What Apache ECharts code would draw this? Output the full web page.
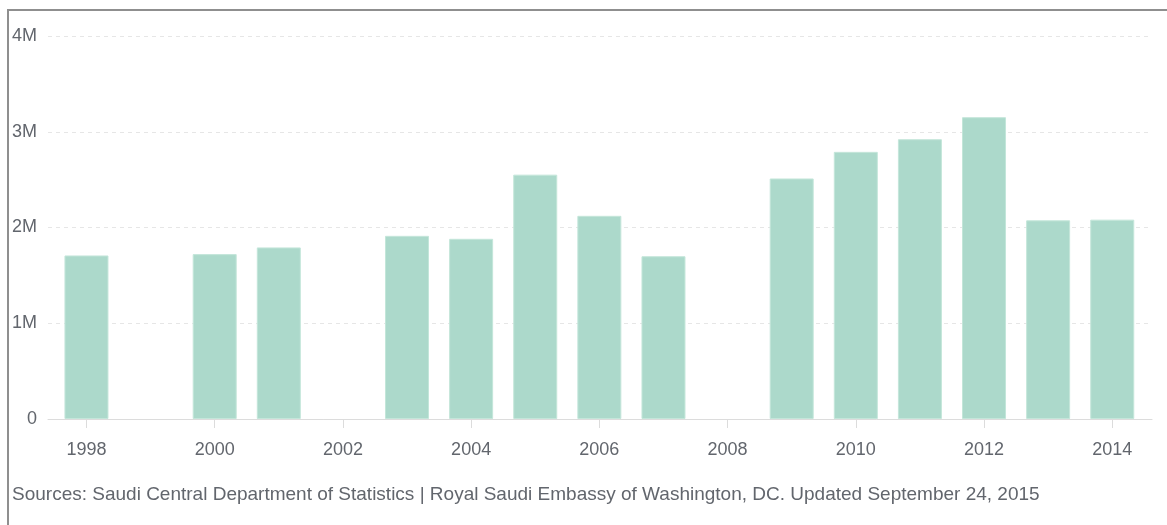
<!DOCTYPE html>
<html>
<head>
<meta charset="utf-8">
<script src="https://cdn.jsdelivr.net/npm/echarts@6/dist/echarts.min.js"></script>
<style>
  html, body { margin: 0; padding: 0; background: #fff; overflow: hidden; }
  #frame { position: absolute; left: 7px; top: 9px; width: 1300px; height: 700px; border: 2px solid #8f8f8f; box-sizing: border-box; }
  #chart { position: absolute; left: 0; top: 0; width: 1167px; height: 525px; }
</style>
</head>
<body>
<div id="frame"></div>
<div id="chart"></div>
<script>
// Data (visitors)
var years = [1998, 2000, 2001, 2003, 2004, 2005, 2006, 2007, 2009, 2010, 2011, 2012, 2013, 2014];
var values = [1708000, 1722000, 1792000, 1913000, 1882000, 2552000, 2122000, 1700000, 2512000, 2790000, 2922000, 3152000, 2075000, 2082000];
var tickYears = [1998, 2000, 2002, 2004, 2006, 2008, 2010, 2012, 2014];
var sourceText = 'Sources: Saudi Central Department of Statistics | Royal Saudi Embassy of Washington, DC. Updated September 24, 2015';

var seriesData = years.map(function (y, i) { return [y, values[i]]; });
var font = '"Liberation Sans", Arial, sans-serif';
var textColor = '#62666d';

var chart = echarts.init(document.getElementById('chart'), null, { renderer: 'canvas' });
chart.setOption({
  animation: false,
  backgroundColor: 'transparent',
  grid: { left: 48, right: 15, top: 36, bottom: 106, containLabel: false },
  xAxis: {
    type: 'value',
    min: 1997.4,
    max: 2014.62,
    axisLine: { show: true, lineStyle: { color: '#dcdcdc', width: 1 } },
    axisTick: { show: true, length: 9, lineStyle: { color: '#dcdcdc' }, customValues: tickYears },
    axisLabel: { customValues: tickYears, margin: 22, color: textColor, fontSize: 18, fontFamily: font,
      formatter: function (v) { return String(v); } },
    splitLine: { show: false }
  },
  yAxis: {
    type: 'value',
    min: 0,
    max: 4000000,
    interval: 1000000,
    axisLine: { show: false },
    axisTick: { show: false },
    axisLabel: { margin: 11, color: textColor, fontSize: 18, fontFamily: font,
      formatter: function (v) { return v === 0 ? '0' : (v / 1000000) + 'M'; } },
    splitLine: { show: true, lineStyle: { color: '#e6e6e6', type: [4, 4], width: 1 } }
  },
  series: [{
    type: 'bar',
    data: seriesData,
    barWidth: 44,
    itemStyle: { color: '#acd9cb', borderColor: '#c4e6da', borderWidth: 1 }
  }],
  graphic: [{
    type: 'text',
    left: 12,
    top: 485,
    style: { text: sourceText, fill: textColor, fontSize: 19, fontFamily: font }
  }]
});
</script>
</body>
</html>
